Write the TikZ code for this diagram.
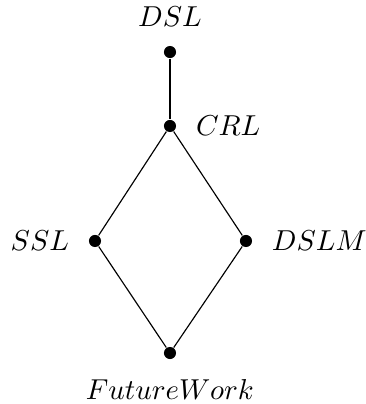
\documentclass[tikz,border=0pt]{standalone}
\begin{document}
\begin{tikzpicture}[punkt/.style={circle, fill=black, inner sep=0pt, minimum size=4.2pt},
    label distance=3.2pt]
    \useasboundingbox (0,0) rectangle (4.465,4.929);

    % Punkter
    \node[punkt, label=above:$DSL$] (dsl) at (2.074, 4.294) {};
    \node[punkt, label=right:$CRL$] (crl) at (2.074, 3.392) {};
    \node[punkt, label=left:$SSL$] (ssl) at (1.159, 1.989) {};
    \node[punkt, label=right:$DSLM$] (dslm) at (3.001, 1.989) {};
    \node[punkt, label=below:$FutureWork$] (fw) at (2.074, 0.622) {};

    % Kanter
    \draw (dsl) -- (crl);
    \draw (crl) -- (ssl) -- (fw);
    \draw (crl) -- (dslm) -- (fw);
  \end{tikzpicture}
\end{document}
